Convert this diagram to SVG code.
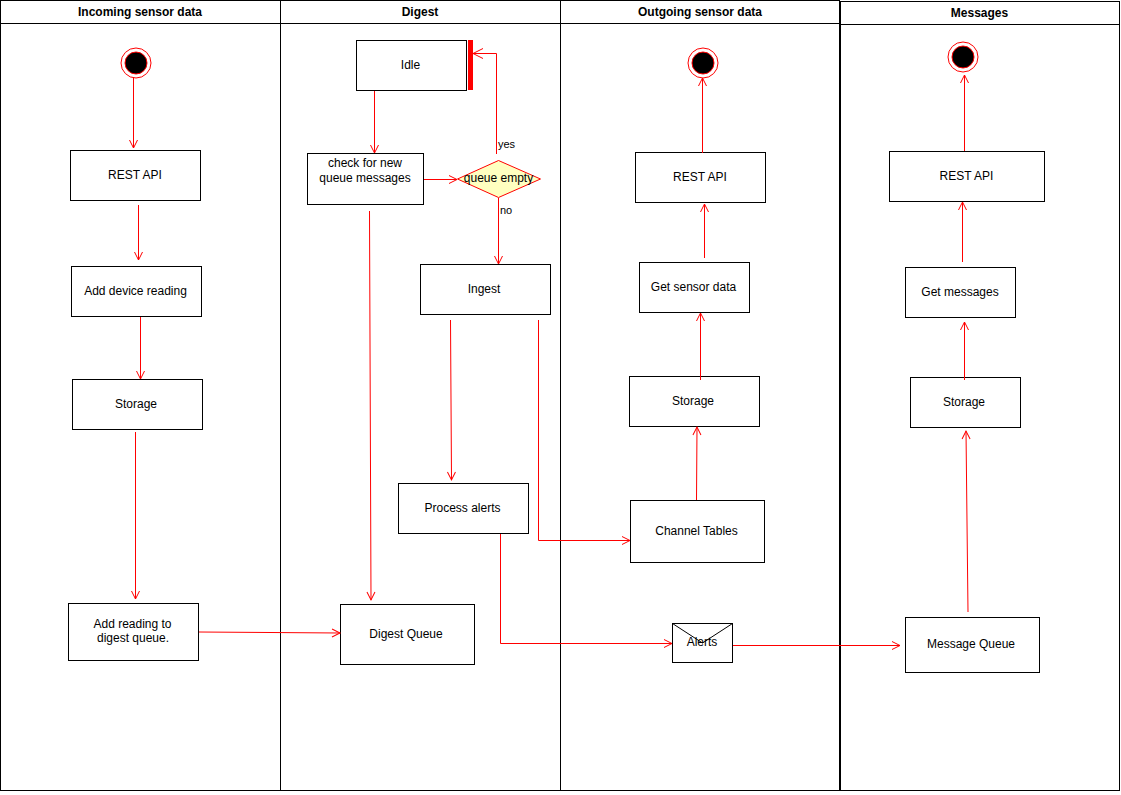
<svg xmlns="http://www.w3.org/2000/svg" width="1121" height="795" viewBox="0 0 1121 795">
<style>
text{font-family:"Liberation Sans",Arial,sans-serif;font-size:12px;fill:#000;text-anchor:middle}
.h{font-weight:bold}
.s{font-size:11px;text-anchor:start}
.lane,.box{fill:#fff;stroke:#000;stroke-width:1}
.line{fill:none;stroke:#000;stroke-width:1}
.c{fill:none;stroke:#f00;stroke-width:1;marker-end:url(#a)}
.o{fill:#fff;stroke:#f00;stroke-width:1}
.i{fill:#000;stroke:#f00;stroke-width:1}
</style>
<defs>
<marker id="a" markerUnits="userSpaceOnUse" markerWidth="12" markerHeight="12" refX="9" refY="6" orient="auto">
<path d="M1 2L9 6L1 10" fill="none" stroke="#f00" stroke-width="1"/>
</marker>
<marker id="b" markerUnits="userSpaceOnUse" markerWidth="14" markerHeight="14" refX="11" refY="7" orient="auto">
<path d="M1 2L11 7L1 12" fill="none" stroke="#f00" stroke-width="1"/>
</marker>
</defs>
<rect width="1121" height="795" fill="#fff"/>
<g id="lane-incoming"><rect class="lane" x="0.5" y="0.5" width="280" height="790"/><path class="line" d="M0.5 23.5H280.5"/><text class="h" x="140" y="16">Incoming sensor data</text></g>
<g id="lane-digest"><rect class="lane" x="280.5" y="0.5" width="280" height="790"/><path class="line" d="M280.500 23.500H560.500"/><text class="h" x="420" y="16">Digest</text></g>
<g id="lane-outgoing"><rect class="lane" x="560.5" y="0.5" width="279" height="790"/><path class="line" d="M560.500 23.500H839.500"/><text class="h" x="700" y="16">Outgoing sensor data</text></g>
<g id="lane-messages"><rect class="lane" x="840.5" y="1.5" width="279" height="789"/><path class="line" d="M840.500 24.500H1119.500"/><text class="h" x="979.500" y="17">Messages</text></g>

<g id="start-in"><circle class="o" cx="136" cy="63" r="15"/><circle class="i" cx="136" cy="63" r="11"/></g>
<g id="end-out"><circle class="o" cx="703" cy="63" r="15"/><circle class="i" cx="703" cy="63" r="11"/></g>
<g id="end-msg"><circle class="o" cx="963" cy="57" r="15"/><circle class="i" cx="963" cy="57" r="11"/></g>

<g id="rest-in"><rect class="box" x="70.5" y="150.5" width="130" height="50"/><text x="135" y="179">REST API</text></g>
<g id="add-reading"><rect class="box" x="71.5" y="266.5" width="130" height="50"/><text x="135.500" y="295">Add device reading</text></g>
<g id="storage-in"><rect class="box" x="72.5" y="379.5" width="130" height="50"/><text x="136" y="408">Storage</text></g>
<g id="add-digest"><rect class="box" x="68.5" y="603.5" width="130" height="57"/><text x="132.500" y="628">Add reading to</text><text x="133" y="642">digest queue.</text></g>

<g id="idle"><rect class="box" x="356.5" y="40.5" width="110" height="50"/><rect x="468" y="40" width="5" height="50" fill="#f00"/><text x="410.500" y="69">Idle</text></g>
<g id="check"><rect class="box" x="307.5" y="153.5" width="116" height="51"/><text x="365" y="167">check for new</text><text x="365" y="182">queue messages</text></g>
<g id="queue-empty"><path d="M498.500 160.500L540.500 179L498.500 197.500L457.500 179Z" fill="#ffffc0" stroke="#f00"/><text x="498.500" y="182">queue empty</text></g>
<g id="ingest"><rect class="box" x="420.500" y="264.500" width="130" height="50"/><text x="484" y="293">Ingest</text></g>
<g id="process"><rect class="box" x="398.500" y="483.500" width="130" height="50"/><text x="462.500" y="512">Process alerts</text></g>
<g id="digest-queue"><rect class="box" x="340.500" y="604.500" width="134" height="60"/><text x="406" y="638">Digest Queue</text></g>

<g id="rest-out"><rect class="box" x="635.500" y="152.500" width="130" height="50"/><text x="700" y="181">REST API</text></g>
<g id="get-sensor"><rect class="box" x="639.500" y="262.500" width="110" height="50"/><text x="693.500" y="291">Get sensor data</text></g>
<g id="storage-out"><rect class="box" x="629.500" y="376.500" width="130" height="50"/><text x="693" y="405">Storage</text></g>
<g id="channel"><rect class="box" x="630.500" y="500.500" width="134" height="62"/><text x="696.500" y="535">Channel Tables</text></g>
<g id="alerts"><rect class="box" x="672.500" y="623.500" width="60" height="39"/><path class="line" d="M672.500 623.500L702.500 643L732.500 623.500"/><text x="702" y="646">Alerts</text></g>

<g id="rest-msg"><rect class="box" x="889.500" y="151.500" width="155" height="50"/><text x="966.500" y="180">REST API</text></g>
<g id="get-msg"><rect class="box" x="905.500" y="267.500" width="110" height="50"/><text x="960" y="296">Get messages</text></g>
<g id="storage-msg"><rect class="box" x="910.500" y="377.500" width="110" height="50"/><text x="964" y="406">Storage</text></g>
<g id="msg-queue"><rect class="box" x="905.500" y="617.500" width="134" height="55"/><text x="971" y="648">Message Queue</text></g>

<g id="connectors">
<path class="c" d="M133.500 78V148"/>
<path class="c" d="M138.500 205V260"/>
<path class="c" d="M140.500 317V379"/>
<path class="c" d="M135.500 432V599"/>
<path class="c" d="M199 632L340 633"/>
<path class="c" d="M374.500 91V153"/>
<path class="c" d="M424 179.500H457"/>
<path class="c" style="marker-end:url(#b)" d="M496.500 154V53.500H473"/>
<path class="c" d="M498.500 198V264"/>
<path class="c" d="M369.500 211L371 600"/>
<path class="c" d="M450.500 320L451.500 480"/>
<path class="c" d="M538.500 320V540.500H630"/>
<path class="c" d="M500.500 534V643.500H672"/>
<path class="c" d="M696.500 500L697 427"/>
<path class="c" d="M700.500 380V313"/>
<path class="c" d="M704.500 258V204"/>
<path class="c" d="M702.500 153V78"/>
<path class="c" d="M733 645.500H900"/>
<path class="c" d="M968 612L966 431"/>
<path class="c" d="M964.500 380V322"/>
<path class="c" d="M962.500 262V202"/>
<path class="c" d="M964.500 151V75"/>
<text class="s" x="498" y="148">yes</text>
<text class="s" x="500" y="214">no</text>
</g>
</svg>
